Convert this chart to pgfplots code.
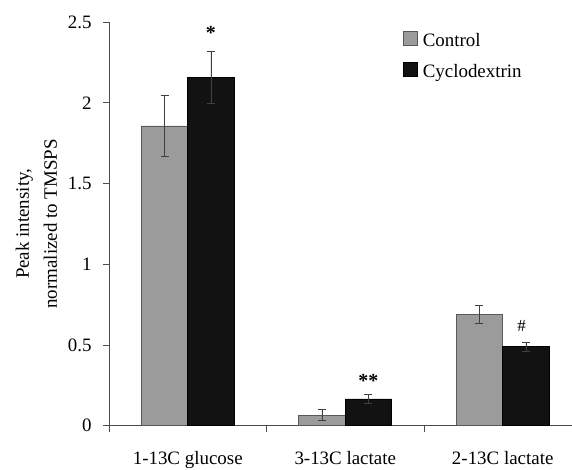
\documentclass[border=0pt]{standalone}
\usepackage{fontspec}
\setmainfont{Liberation Serif}
\usepackage{pgfplots}
\pgfplotsset{compat=1.18}
\definecolor{ctrl}{RGB}{155,155,155}
\definecolor{cyclo}{RGB}{18,18,18}
\begin{document}
\begin{tikzpicture}
\begin{axis}[
  name=ax,
  scale only axis,
  width=463bp, height=403.7bp,
  xmin=-0.5, xmax=2.44,
  ymin=0, ymax=2.5,
  axis x line*=bottom, axis y line*=left,
  axis line style={black!70, line width=0.6bp},
  ytick={0,0.5,1,1.5,2,2.5},
  yticklabels={0,0.5,1,1.5,2,2.5},
  xtick={0,1,2},
  xticklabels={1-13C glucose,3-13C lactate,2-13C lactate},
  minor xtick={-0.5,0.5,1.5},
  tick align=outside,
  major tick length=6bp,
  minor tick length=6bp,
  x tick style={draw=none},
  minor x tick style={draw=black!70, line width=0.6bp},
  y tick style={black!70, line width=0.6bp},
  tick label style={font=\fontsize{19}{21}\selectfont},
  yticklabel style={xshift=-8bp},
  xticklabel style={yshift=-16bp},
  ylabel={Peak intensity,\\normalized to TMSPS},
  ylabel style={align=center, font=\fontsize{19}{28}\selectfont},
  every axis y label/.append style={at={(ticklabel cs:0.5)}, yshift=4bp},
  ybar, bar width=0.295, 
  legend style={draw=none, fill=none, at={(0.635,0.977)}, anchor=north west,
    font=\fontsize{19}{21}\selectfont, row sep=12bp, inner sep=0pt},
  legend cell align=left,
  legend image code/.code={\draw[#1] (0bp,-5bp) rectangle (14bp,9bp); \path (17bp,0bp);},
  clip=false,
]
\addplot[fill=ctrl, draw=black!65, line width=0.6bp, bar shift=-0.1475,
  error bars/.cd, y dir=both, y explicit,
  error bar style={black!75, line width=0.8bp},
  error mark options={rotate=90, mark size=4bp, black!75, line width=0.8bp}]
  coordinates {(0,1.856) +- (0,0.19) (1,0.065) +- (0,0.034) (2,0.688) +- (0,0.055)};
\addplot[fill=cyclo, draw=black, line width=0.6bp, bar shift=0.1475,
  error bars/.cd, y dir=both, y explicit,
  error bar style={black!75, line width=0.8bp},
  error mark options={rotate=90, mark size=4bp, black!75, line width=0.8bp}]
  coordinates {(0,2.155) +- (0,0.16) (1,0.166) +- (0,0.03) (2,0.490) +- (0,0.028)};
\legend{Control,Cyclodextrin}
\node[font=\fontsize{20}{21}\selectfont\bfseries] at (axis cs:0.1475,2.43) {*};
\node[font=\fontsize{20}{21}\selectfont\bfseries] at (axis cs:1.1475,0.28) {**};
\node[font=\fontsize{17}{21}\selectfont] at (axis cs:2.12,0.62) {\#};
\end{axis}
\pgfresetboundingbox
\useasboundingbox ([shift={(-109bp,-44.3bp)}]ax.south west) rectangle ([shift={(0bp,22bp)}]ax.north east);
\end{tikzpicture}
\end{document}
